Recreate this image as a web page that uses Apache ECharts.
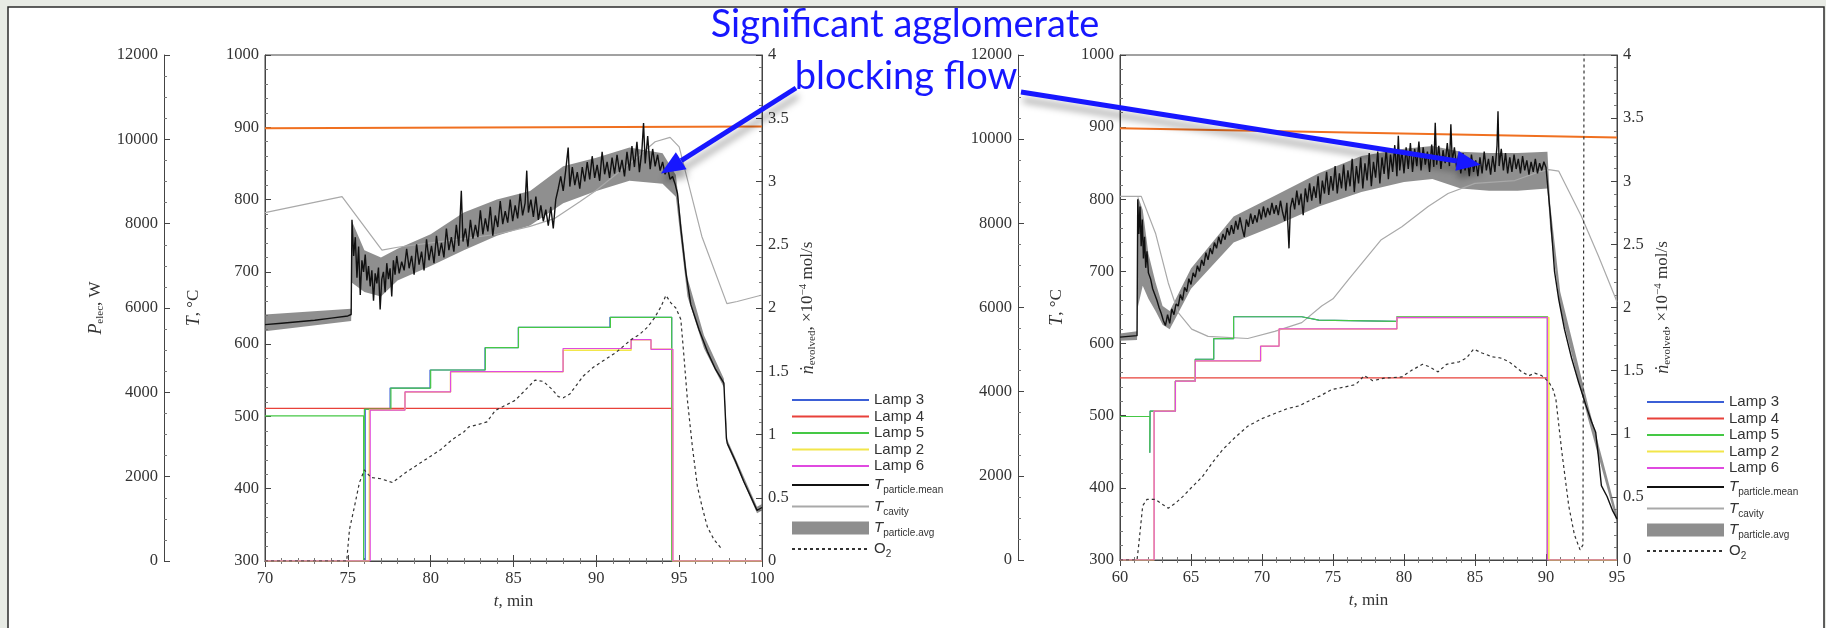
<!DOCTYPE html>
<html>
<head>
<meta charset="utf-8">
<script src="https://cdn.jsdelivr.net/npm/echarts@6/dist/echarts.min.js"></script>
<style>
  html, body { margin: 0; padding: 0; background: #e8ebe5; }
  #main { width: 1826px; height: 628px; }
</style>
</head>
<body>
<div id="main"></div>
<script>
// ---- run 1 (left panel), t = 70..100 min ----
const limit1 = [[70, 898.5], [100, 901]];
const cavity1 = [[70,782],[74.65,804],[77.06,730],[78,734],[80,740],[82,746],[84,752],[86,763],[87.5,774],[89,797],[90,813],[92,850],[93.55,880],[94.45,886],[95,873],[96.37,749],[97.88,656],[98.5,659],[100,668]];
const mean1 = [[70,627],[71,629],[72,631],[73,633],[74,636],[75,639],[75.2,641],
  [75.25,772],[75.35,722],[75.45,748],[75.55,692],[75.65,735],[75.75,668],[75.85,716],[75.95,700],[76.05,724],[76.15,688],[76.25,708],[76.35,680],[76.45,702],[76.55,660],[76.65,698],[76.75,684],[76.85,706],[76.95,648],[77.05,690],[77.15,700],[77.25,672],[77.35,712],[77.45,690],[77.55,705],[77.65,666],[77.75,716],[77.85,696],[77.95,722],[78.1,698],[78.25,714],[78.4,702],[78.55,732],[78.7,705],[78.85,722],[79,696],[79.15,738],[79.3,710],[79.45,728],[79.6,702],[79.75,745],[79.9,716],[80.05,736],[80.2,712],[80.35,750],[80.5,722],[80.65,740],[80.8,720],[80.95,760],[81.1,730],[81.25,748],[81.4,728],[81.55,765],[81.7,736],[81.85,812],[81.95,742],[82.1,760],[82.25,735],[82.4,772],[82.55,746],[82.7,765],[82.85,748],[83,785],[83.15,752],[83.3,774],[83.45,756],[83.6,790],[83.75,750],[83.9,778],[84.05,762],[84.2,798],[84.35,766],[84.5,784],[84.65,768],[84.8,800],[84.95,770],[85.1,792],[85.25,774],[85.4,808],[85.55,778],[85.7,795],[85.8,840],[85.9,782],[86.05,800],[86.2,776],[86.35,804],[86.5,772],[86.65,792],[86.8,770],[86.95,786],[87.1,764],[87.25,790],[87.4,760],[87.55,800],[87.7,815],[87.85,832],[88,812],[88.15,840],[88.3,872],[88.4,818],[88.55,845],[88.7,820],[88.85,838],[89,815],[89.15,845],[89.3,825],[89.45,852],[89.6,828],[89.75,860],[89.9,830],[90.05,848],[90.2,826],[90.35,866],[90.5,835],[90.65,852],[90.8,830],[90.95,858],[91.1,836],[91.25,862],[91.4,838],[91.55,855],[91.7,832],[91.85,866],[92,840],[92.15,874],[92.3,845],[92.45,880],[92.6,838],[92.75,868],[92.85,906],[92.95,850],[93.1,888],[93.25,842],[93.4,870],[93.55,846],[93.7,862],[93.85,840],[94,852],[94.15,835],[94.3,844],[94.45,828],[94.6,832],[94.75,822],[94.9,808],[95.1,760],[95.4,700],[95.7,655],[96.2,620],[96.7,590],[97.2,565],[97.7,546],[97.75,520],[97.85,470],[97.9,463],[98.4,438],[98.9,410],[99.4,385],[99.7,370],[100,374]];
const avgT1  = [70, 75.2, 75.25, 76, 77, 78, 80, 82, 84, 86, 88, 90, 92, 94, 94.8, 95.5, 96.5, 97.7, 97.9, 99.7, 100];
const avgLo1 = [618, 632, 685, 672, 666, 688, 708, 730, 750, 764, 795, 812, 826, 822, 804, 666, 594, 540, 460, 366, 370];
const avgHi1 = [641, 649, 770, 730, 720, 732, 752, 782, 800, 812, 846, 858, 872, 864, 834, 692, 612, 552, 468, 375, 379];
const lamp3_1 = [[70,0],[76.05,0],[76.05,3600],[77.55,3600],[77.55,4100],[79.96,4100],[79.96,4530],[83.28,4530],[83.28,5060],[85.29,5060],[85.29,5540],[90.82,5540],[90.82,5780],[94.55,5780],[94.55,0],[100,0]];
const lamp4_1 = [[70,3620],[94.6,3620],[94.6,0],[100,0]];
const lamp5_1 = [[70,3440],[75.95,3440],[75.95,0],[76,0],[76,3600],[77.6,3600],[77.6,4100],[80,4100],[80,4530],[83.3,4530],[83.3,5060],[85.3,5060],[85.3,5540],[90.85,5540],[90.85,5780],[94.55,5780],[94.55,0],[100,0]];
const lamp2_1 = [[70,0],[76.3,0],[76.3,3580],[78.45,3580],[78.45,4010],[81.2,4010],[81.2,4490],[88,4490],[88,5000],[92.1,5000],[92.1,5250],[93.3,5250],[93.3,5020],[94.6,5020],[94.6,0],[100,0]];
const lamp6_1 = [[70,0],[76.35,0],[76.35,3580],[78.45,3580],[78.45,4010],[81.2,4010],[81.2,4490],[87.99,4490],[87.99,5040],[92.1,5040],[92.1,5250],[93.3,5250],[93.3,5020],[94.62,5020],[94.62,0],[100,0]];
const o2_1 = [[70,0],[74.93,0],[75.1,0.25],[75.4,0.43],[75.7,0.62],[76,0.72],[76.4,0.66],[77,0.65],[77.7,0.62],[78.5,0.7],[79.2,0.76],[79.9,0.82],[80.6,0.88],[81.3,0.96],[82,1.02],[82.3,1.06],[82.9,1.08],[83.4,1.1],[83.9,1.19],[84.5,1.23],[85.1,1.27],[85.7,1.35],[86.3,1.43],[86.8,1.42],[87.3,1.36],[87.7,1.3],[88,1.29],[88.4,1.32],[89.2,1.46],[89.8,1.53],[90.5,1.59],[91.2,1.65],[92.1,1.75],[92.6,1.79],[93.1,1.85],[93.5,1.92],[93.9,2.01],[94.2,2.1],[94.5,2.04],[94.8,2],[95.1,1.91],[95.3,1.6],[95.5,1.27],[95.8,0.9],[96.1,0.59],[96.4,0.42],[96.7,0.27],[97.1,0.17],[97.6,0.09]];

// ---- run 2 (right panel), t = 60..95 min ----
const limit2 = [[60, 898.5], [95, 885.5]];
const cavity2 = [[60,804],[61.5,804],[62.5,753],[63.4,684],[64.1,643],[65.05,620],[66.2,610],[69,607],[70.9,617],[72.8,629],[74.2,652],[75,662],[76.1,689],[78.4,744],[79.85,762],[81.7,790],[83.1,808],[85,822],[87.8,826],[89.5,838],[90.2,841],[90.9,839],[92.5,776],[93.7,721],[95,658]];
const mean2 = [[60,609],[61.2,611],[61.25,800],[61.33,752],[61.41,790],[61.49,735],[61.57,772],[61.65,718],[61.73,748],[61.81,705],[61.9,728],[62,698],[62.15,690],[62.3,676],[62.45,668],[62.6,660],[62.75,650],[62.9,642],[63.05,632],[63.2,625],[63.35,640],[63.5,628],[63.65,648],[63.8,640],[63.95,655],[64.1,652],[64.25,668],[64.4,660],[64.55,678],[64.7,672],[64.85,690],[65,682],[65.15,698],[65.3,692],[65.45,708],[65.6,700],[65.75,716],[65.9,708],[66.05,726],[66.2,716],[66.35,732],[66.5,724],[66.65,740],[66.8,732],[66.95,748],[67.1,738],[67.25,752],[67.4,744],[67.55,760],[67.7,750],[67.85,764],[68,752],[68.15,770],[68.3,758],[68.45,775],[68.6,760],[68.75,748],[68.9,772],[69.05,762],[69.2,780],[69.35,766],[69.5,778],[69.65,768],[69.8,786],[69.95,772],[70.1,790],[70.25,775],[70.4,788],[70.55,778],[70.7,795],[70.85,780],[71,792],[71.15,778],[71.3,798],[71.45,782],[71.6,770],[71.75,795],[71.9,732],[72,788],[72.15,802],[72.3,786],[72.45,812],[72.6,792],[72.75,808],[72.9,778],[73.05,815],[73.2,796],[73.35,822],[73.5,798],[73.65,818],[73.8,802],[73.95,832],[74.1,794],[74.25,826],[74.4,808],[74.55,838],[74.7,806],[74.85,832],[75,812],[75.15,846],[75.3,808],[75.45,836],[75.6,815],[75.75,848],[75.9,812],[76.05,840],[76.2,818],[76.35,856],[76.5,810],[76.65,846],[76.8,822],[76.95,858],[77.1,815],[77.25,850],[77.4,826],[77.55,864],[77.7,818],[77.85,852],[78,830],[78.15,866],[78.3,822],[78.45,858],[78.6,835],[78.75,870],[78.9,828],[79.05,862],[79.2,838],[79.35,875],[79.5,832],[79.6,888],[79.7,840],[79.85,868],[80,836],[80.15,872],[80.3,842],[80.45,878],[80.6,838],[80.75,870],[80.9,846],[81.05,880],[81.2,840],[81.35,872],[81.5,848],[81.65,866],[81.8,838],[81.95,876],[82.1,845],[82.2,906],[82.3,848],[82.45,874],[82.6,842],[82.75,868],[82.9,850],[83.05,878],[83.2,846],[83.3,904],[83.4,852],[83.55,872],[83.7,844],[83.85,862],[84,836],[84.15,864],[84.3,840],[84.45,858],[84.6,832],[84.75,862],[84.9,838],[85.05,854],[85.2,832],[85.35,858],[85.5,836],[85.65,866],[85.8,840],[85.95,856],[86.1,834],[86.25,860],[86.4,838],[86.55,874],[86.62,922],[86.7,846],[86.85,870],[87,840],[87.15,864],[87.3,836],[87.45,858],[87.6,838],[87.75,862],[87.9,842],[88.05,856],[88.2,836],[88.35,860],[88.5,840],[88.65,854],[88.8,834],[88.95,852],[89.1,838],[89.25,856],[89.4,836],[89.55,850],[89.7,840],[89.85,852],[90,844],[90.1,842],[90.3,780],[90.6,700],[90.9,661],[91.3,620],[91.8,580],[92.3,546],[92.8,515],[93.2,492],[93.5,477],[93.7,442],[93.9,403],[94.3,388],[94.7,368],[95,357]];
const avgT2  = [60, 61.2, 61.25, 61.6, 62, 62.5, 63, 63.5, 65, 68, 71, 74, 77, 80, 82, 84, 86, 88, 90.1, 90.3, 91, 93, 95];
const avgLo2 = [604, 605, 650, 680, 662, 645, 626, 620, 676, 740, 764, 790, 810, 824, 828, 815, 812, 812, 815, 758, 648, 493, 351];
const avgHi2 = [614, 617, 805, 785, 725, 685, 652, 645, 704, 776, 806, 836, 860, 870, 874, 866, 864, 864, 866, 792, 672, 512, 363];
const lamp3_2 = [[60,0],[62.1,0],[62.1,'-'],[62.1,2550],[62.12,3540],[63.9,3540],[63.9,4250],[65.3,4250],[65.3,4770],[66.6,4770],[66.6,5260],[68,5260],[68,5780],[72.8,5780],[74,5700],[79.5,5670],[79.5,5780],[90.1,5780],[90.1,0],[95,0]];
const lamp4_2 = [[60,4330],[90.1,4330],[90.1,0],[95,0]];
const lamp5_2 = [[60,3410],[62.1,3410],[62.1,2550],[62.12,3540],[63.9,3540],[63.9,4250],[65.3,4250],[65.3,4770],[66.6,4770],[66.6,5260],[68,5260],[68,5780],[72.8,5780],[74,5700],[79.5,5670],[79.5,5780],[90.1,5780],[90.1,0],[95,0]];
const lamp2_2 = [[60,0],[62.4,0],[62.4,3540],[63.9,3540],[63.9,4250],[65.3,4250],[65.3,4730],[69.9,4730],[69.9,5080],[71.2,5080],[71.2,5490],[79.5,5490],[79.5,5760],[90.2,5760],[90.2,0],[95,0]];
const lamp6_2 = [[60,0],[62.4,0],[62.4,3540],[63.9,3540],[63.9,4250],[65.3,4250],[65.3,4730],[69.9,4730],[69.9,5080],[71.2,5080],[71.2,5490],[79.5,5490],[79.5,5760],[90.1,5760],[90.1,0],[95,0]];
const o2_2 = [[60,0],[61.2,0],[61.3,0.1],[61.4,0.21],[61.6,0.43],[61.9,0.48],[62.5,0.48],[63,0.44],[63.4,0.41],[63.9,0.45],[64.4,0.5],[65,0.57],[65.8,0.66],[66.5,0.77],[67.2,0.87],[68,0.96],[69,1.06],[70,1.12],[70.9,1.16],[71.8,1.2],[72.6,1.22],[73.3,1.26],[74.1,1.3],[74.9,1.35],[75.8,1.37],[76.6,1.39],[77.2,1.46],[77.8,1.42],[78.6,1.44],[79.85,1.45],[80.5,1.5],[81.3,1.55],[81.8,1.53],[82.4,1.49],[83,1.55],[83.9,1.57],[84.4,1.6],[84.9,1.67],[85.5,1.64],[86.2,1.61],[86.8,1.6],[87.4,1.57],[88.3,1.49],[88.8,1.46],[89.2,1.48],[89.7,1.46],[90.2,1.41],[90.5,1.35],[90.7,1.27],[91.1,0.87],[91.6,0.43],[92,0.2],[92.4,0.08],[92.6,0.12],[92.7,5]];

// annotation: arrow tips in data coordinates (t, T)
const arrowTip1 = [93.9, 836];
const arrowTip2 = [85.4, 848];
const calloutLines = ['Significant agglomerate', 'blocking flow'];

const legendNames = ['Lamp 3', 'Lamp 4', 'Lamp 5', 'Lamp 2', 'Lamp 6', 'T_particle.mean', 'T_cavity', 'T_particle.avg', 'O2'];
const lampColors = { 'Lamp 3': '#3b5fd6', 'Lamp 4': '#e8413a', 'Lamp 5': '#45c845', 'Lamp 2': '#f2e64a', 'Lamp 6': '#e04ae0' };

const serif = 'Liberation Serif';
const sans = 'Liberation Sans';
const blue = '#1717ff';
const bandColor = '#8e8e8e';
const bandFill = '#6a6a6a';

const chart = echarts.init(document.getElementById('main'));

function xAxes(grid, min, max) {
  const common = {
    gridIndex: grid, type: 'value', min: min, max: max, interval: 5,
    axisLine: { lineStyle: { color: '#444' } },
    axisTick: { inside: true, length: 6, lineStyle: { color: '#444' } },
    minorTick: { show: true, splitNumber: 5, length: 3, lineStyle: { color: '#777' } },
    splitLine: { show: false }
  };
  return [
    Object.assign({}, common, {
      position: 'bottom',
      axisLabel: { color: '#333', fontFamily: serif, fontSize: 16.5, margin: 9 },
      name: '{i|t}, min', nameLocation: 'middle', nameGap: 32,
      nameTextStyle: { color: '#333', fontFamily: serif, fontSize: 17, rich: { i: { fontStyle: 'italic', fontFamily: serif, fontSize: 17 } } }
    }),
    Object.assign({}, common, { position: 'top', axisLabel: { show: false } })
  ];
}

function yAxes(grid, pOffset, tGap, showPName) {
  const base = {
    gridIndex: grid, type: 'value',
    axisLine: { show: true, lineStyle: { color: '#444' } },
    axisTick: { show: true, inside: true, length: 6, lineStyle: { color: '#444' } },
    splitLine: { show: false },
    axisLabel: { color: '#333', fontFamily: serif, fontSize: 16.5, margin: 6, formatter: v => String(v) },
    nameLocation: 'middle', nameRotate: 90
  };
  const nameStyle = {
    color: '#333', fontFamily: serif, fontSize: 17,
    rich: {
      i: { fontStyle: 'italic', fontFamily: serif, fontSize: 18 },
      s: { fontFamily: serif, fontSize: 11, padding: [9, 0, 0, 0] },
      u: { fontFamily: serif, fontSize: 11, padding: [0, 0, 9, 0] },
      r: { fontFamily: serif, fontSize: 17 }
    }
  };
  return [
    Object.assign({}, base, {
      position: 'left', min: 300, max: 1000, interval: 100,
      minorTick: { show: true, splitNumber: 5, length: 3, lineStyle: { color: '#777' } },
      name: '{i|T}{r|, °C}', nameGap: tGap, nameTextStyle: nameStyle
    }),
    Object.assign({}, base, {
      position: 'left', offset: pOffset, min: 0, max: 12000, interval: 2000,
      minorTick: { show: true, splitNumber: 4, length: 3, lineStyle: { color: '#777' } },
      name: showPName ? '{i|P}{s|elec}{r|, W}' : '', nameGap: 58, nameTextStyle: nameStyle
    }),
    Object.assign({}, base, {
      position: 'right', min: 0, max: 4, interval: 0.5,
      minorTick: { show: true, splitNumber: 5, length: 3, lineStyle: { color: '#777' } },
      name: '{i|ṅ}{s|evolved}{r|, ×10}{u|−4}{r| mol/s}', nameGap: 36, nameTextStyle: nameStyle
    })
  ];
}

function line(name, data, xi, yi, color, width, extra) {
  return Object.assign({
    type: 'line', name: name, data: data, xAxisIndex: xi, yAxisIndex: yi,
    symbol: 'none', showSymbol: false, animation: false,
    lineStyle: { color: color, width: width }, itemStyle: { color: color }
  }, extra || {});
}

// band between low and high temperature traces, drawn as one polygon
function band(name, ts, lo, hi, xi, yi) {
  return {
    type: 'custom', name: name, xAxisIndex: xi, yAxisIndex: yi, clip: true, animation: false,
    itemStyle: { color: bandColor },
    data: ts.map((t, i) => [t, lo[i], hi[i]]),
    encode: { x: 0, y: [1, 2] },
    renderItem: function (params, api) {
      if (params.dataIndex !== 0) return null;
      const upper = ts.map((t, i) => api.coord([t, hi[i]]));
      const lower = ts.map((t, i) => api.coord([t, lo[i]])).reverse();
      return { type: 'polygon', shape: { points: upper.concat(lower) }, style: { fill: bandFill, opacity: 0.75 } };
    }
  };
}

function panelSeries(xi, yT, yP, yO, d) {
  return [
    band('T_particle.avg', d.avgT, d.avgLo, d.avgHi, xi, yT),
    line('T_cavity', d.cavity, xi, yT, '#a9a9a9', 1.2),
    line('limit', d.limit, xi, yT, '#f07020', 2),
    line('Lamp 3', d.lamp3, xi, yP, lampColors['Lamp 3'], 1.2),
    line('Lamp 4', d.lamp4, xi, yP, lampColors['Lamp 4'], 1.2),
    line('Lamp 5', d.lamp5, xi, yP, lampColors['Lamp 5'], 1.2),
    line('Lamp 2', d.lamp2, xi, yP, lampColors['Lamp 2'], 1.5),
    line('Lamp 6', d.lamp6, xi, yP, lampColors['Lamp 6'], 1.2),
    line('O2', d.o2, xi, yO, '#333', 1.2, { lineStyle: { color: '#333', width: 1.2, type: [3, 3] } }),
    line('T_particle.mean', d.mean, xi, yT, '#111', 1.4)
  ];
}

function legend(left, top) {
  return {
    orient: 'vertical', left: left, top: top,
    itemWidth: 77, itemHeight: 13, itemGap: 0.5,
    itemStyle: { opacity: 0 },
    data: legendNames.map(n => n === 'T_particle.avg'
      ? { name: n, icon: 'rect', itemStyle: { color: bandColor, opacity: 1 } }
      : n),
    formatter: function (name) {
      if (name.indexOf('T_') === 0) return '{t|T}{s|' + name.slice(2) + '}';
      if (name === 'O2') return '{o|O}{d|2}';
      return name;
    },
    textStyle: {
      color: '#333', fontFamily: sans, fontSize: 15, lineHeight: 16,
      rich: {
        t: { fontFamily: sans, fontStyle: 'italic', fontSize: 15, lineHeight: 16, color: '#333' },
        s: { fontFamily: sans, fontSize: 10, lineHeight: 11, padding: [11, 0, 0, 0], color: '#333' },
        o: { fontFamily: sans, fontSize: 15, lineHeight: 16, color: '#333' },
        d: { fontFamily: sans, fontSize: 10, lineHeight: 11, padding: [10, 0, 0, 0], color: '#333' }
      }
    }
  };
}

const option = {
  backgroundColor: '#ffffff',
  animation: false,
  grid: [
    { left: 265, top: 55, width: 497, height: 506, show: true, borderColor: '#444', borderWidth: 1 },
    { left: 1120, top: 55, width: 497, height: 505, show: true, borderColor: '#444', borderWidth: 1 }
  ],
  xAxis: xAxes(0, 70, 100).concat(xAxes(1, 60, 95)),
  yAxis: yAxes(0, 101, 62, true).concat(yAxes(1, 102, 54, false)),
  legend: [legend(786, 387), legend(1641, 389)],
  series: panelSeries(0, 0, 1, 2, {
    avgT: avgT1, avgLo: avgLo1, avgHi: avgHi1, cavity: cavity1, limit: limit1,
    lamp3: lamp3_1, lamp4: lamp4_1, lamp5: lamp5_1, lamp2: lamp2_1, lamp6: lamp6_1, o2: o2_1, mean: mean1
  }).concat(panelSeries(2, 3, 4, 5, {
    avgT: avgT2, avgLo: avgLo2, avgHi: avgHi2, cavity: cavity2, limit: limit2,
    lamp3: lamp3_2, lamp4: lamp4_2, lamp5: lamp5_2, lamp2: lamp2_2, lamp6: lamp6_2, o2: o2_2, mean: mean2
  }))
};
chart.setOption(option);

// frame, callout text and arrows
function arrow(tail, tip) {
  const dx = tip[0] - tail[0], dy = tip[1] - tail[1];
  const len = Math.hypot(dx, dy), ux = dx / len, uy = dy / len;
  const head = 24, half = 10;
  const bx = tip[0] - ux * head, by = tip[1] - uy * head;
  const shadow = { shadowBlur: 7, shadowColor: 'rgba(0,0,0,0.35)', shadowOffsetX: 2, shadowOffsetY: 8 };
  return [
    { type: 'line', z: 100, shape: { x1: tail[0], y1: tail[1], x2: bx, y2: by },
      style: Object.assign({ stroke: blue, lineWidth: 5 }, shadow) },
    { type: 'polygon', z: 100, shape: { points: [tip, [bx - uy * half, by + ux * half], [bx + uy * half, by - ux * half]] },
      style: Object.assign({ fill: blue }, shadow) }
  ];
}

const tip1 = chart.convertToPixel({ xAxisIndex: 0, yAxisIndex: 0 }, arrowTip1);
const tip2 = chart.convertToPixel({ xAxisIndex: 2, yAxisIndex: 3 }, arrowTip2);

chart.setOption({
  graphic: [
    { type: 'rect', z: 50, shape: { x: 0, y: 0, width: 1826, height: 7 }, style: { fill: '#e8ebe5' } },
    { type: 'rect', z: 50, shape: { x: 0, y: 0, width: 8, height: 628 }, style: { fill: '#e8ebe5' } },
    { type: 'rect', z: 50, shape: { x: 1824, y: 0, width: 2, height: 628 }, style: { fill: '#e8ebe5' } },
    { type: 'polyline', z: 51, shape: { points: [[8, 628], [8, 7], [1824, 7], [1824, 628]] }, style: { stroke: '#2b2b2b', lineWidth: 1.5, fill: null } },
    { type: 'text', z: 101, x: 905, y: 25, style: { text: calloutLines[0], fill: blue, font: '38px Lato', align: 'center', verticalAlign: 'middle' } },
    { type: 'text', z: 101, x: 906, y: 77, style: { text: calloutLines[1], fill: blue, font: '38px Lato', align: 'center', verticalAlign: 'middle' } }
  ].concat(arrow([796, 88], tip1)).concat(arrow([1021, 92], tip2))
});
</script>
</body>
</html>
